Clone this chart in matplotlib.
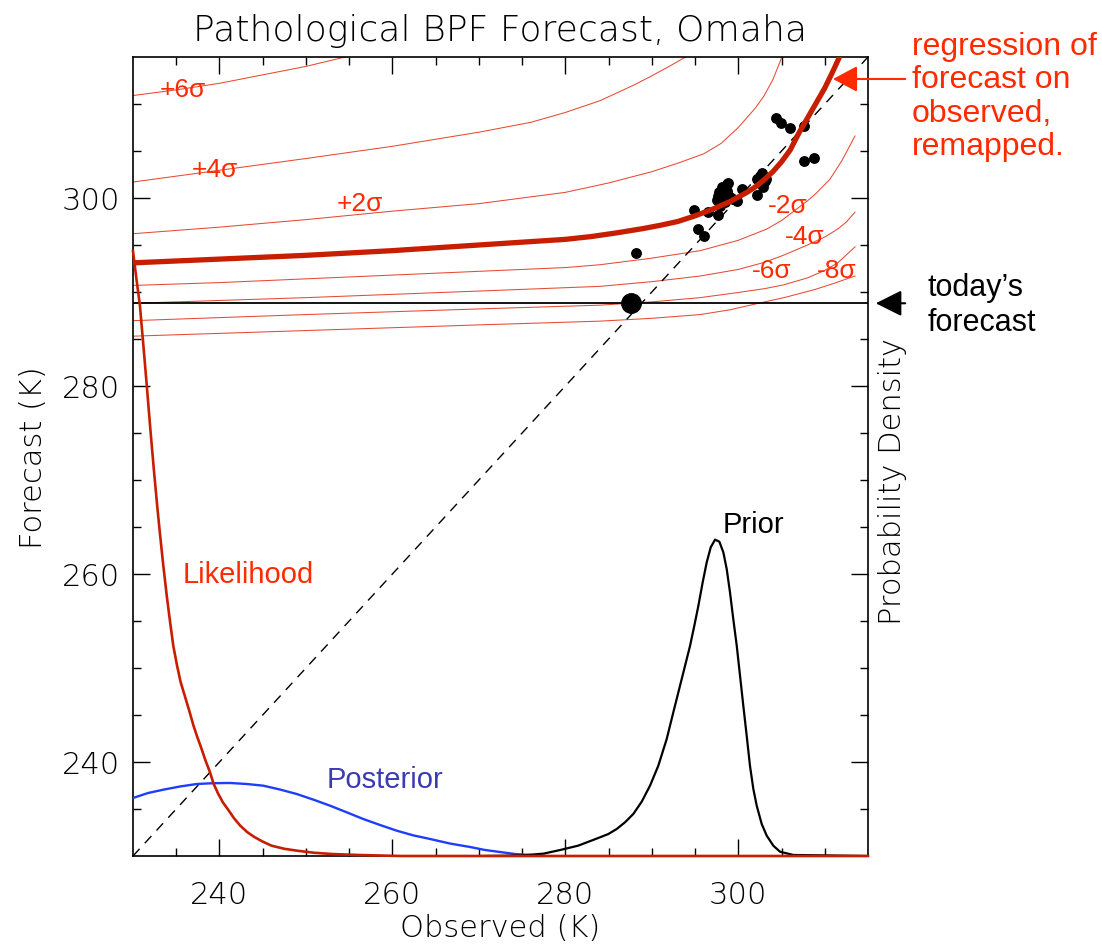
import matplotlib
matplotlib.use("Agg")
import matplotlib.pyplot as plt

# ---------------- data ----------------
# regression of forecast on observed (remapped)
reg_x = [230, 240, 250, 260, 270, 280, 283, 286, 289, 291, 293, 295, 297, 299, 301, 302, 303, 304, 305, 306, 307, 308, 309, 310, 311, 312]
reg_y = [293.1, 293.5, 293.9, 294.4, 295.0, 295.6, 295.9, 296.3, 296.75, 297.1, 297.5, 298.1, 298.8, 299.6, 300.6, 301.2, 301.95, 302.8, 303.85, 305.1, 306.9, 308.5, 310.1, 311.7, 313.6, 315.6]

# sigma curves
p2_x = [230, 240, 250, 260, 270, 280, 285, 290, 293, 296, 298, 300, 302, 303, 304, 305, 305.5]
p2_y = [296.2, 296.9, 297.7, 298.6, 299.4, 300.6, 301.6, 302.8, 303.7, 304.7, 305.8, 307.5, 309.6, 310.9, 312.6, 314.9, 316.0]
p4_x = [230, 240, 250, 260, 270, 276, 280, 284, 286, 288, 290, 292, 294, 295]
p4_y = [301.7, 302.95, 304.2, 305.5, 307.0, 308.05, 309.1, 310.35, 311.2, 312.05, 313.0, 314.0, 315.05, 315.6]
p6_x = [230, 235, 240, 245, 250, 255, 256]
p6_y = [310.9, 311.5, 312.2, 313.1, 314.0, 315.1, 315.35]
m2_x = [230, 240, 250, 260, 270, 280, 284, 290, 295.6, 300, 303.3, 305, 307, 308, 309, 310.6, 312, 313.5]
m2_y = [290.7, 291.0, 291.4, 291.8, 292.2, 292.6, 292.9, 293.6, 294.4, 295.5, 296.7, 297.6, 299.0, 299.7, 300.5, 302.0, 304.0, 306.6]
m4_x = [230, 250, 270, 284, 290, 295.6, 300, 303, 305.2, 308, 310, 311.5, 312.5, 313.5]
m4_y = [288.8, 289.4, 290.1, 290.6, 291.1, 291.7, 292.4, 293.15, 293.9, 295.0, 295.85, 296.7, 297.45, 298.5]
m6_x = [230, 250, 270, 284, 290, 295.6, 300, 303, 305.2, 308, 310, 311.5, 313.5]
m6_y = [286.95, 287.6, 288.2, 288.6, 288.95, 289.4, 289.95, 290.35, 290.75, 291.5, 292.3, 293.1, 294.8]
m8_x = [230, 250, 270, 284, 290, 295.6, 299, 302.1, 305.5, 308.8, 311, 313.5]
m8_y = [285.3, 285.9, 286.5, 286.9, 287.2, 287.6, 288.1, 288.75, 289.45, 290.25, 290.9, 291.7]

# historical (observed, forecast) pairs
pts_obs = [288.17, 294.88, 295.38, 295.98, 296.53, 297.60, 297.50, 297.69, 297.89, 298.08,
           298.27, 298.46, 298.66, 298.84, 298.66, 299.04, 299.42, 299.82, 300.39, 302.13,
           302.13, 302.51, 302.71, 303.09, 302.89, 303.20, 304.36, 304.90, 306.01, 307.62,
           307.62, 308.79, 297.77, 298.35, 298.12]
pts_fc = [294.15, 298.72, 296.70, 295.96, 298.46, 298.19, 299.79, 300.24, 299.18, 301.14,
          300.43, 299.54, 301.49, 301.60, 300.78, 300.07, 299.89, 299.71, 301.01, 300.32,
          302.02, 302.34, 302.71, 301.81, 301.17, 302.02, 308.56, 307.98, 307.45, 307.63,
          303.96, 304.22, 300.64, 300.96, 300.00]

today_fc = 288.8
today_obs = 287.6

# probability densities (arbitrary units, fraction of panel height)
lik_x = [230.0, 230.4, 230.8, 231.2, 231.6, 232.0, 232.4, 232.8, 233.12, 233.5, 233.9, 234.3, 234.66,
         235.1, 235.5, 236.0, 236.5, 237.0, 237.4, 237.9, 238.4, 238.9, 239.3, 239.8, 240.4, 241.0,
         241.7, 242.4, 243.2, 244.0, 245.0, 246.0, 247.5, 249.0, 251.0, 253.0, 256.0, 259.0, 261.0, 315.0]
lik_d = [0.757, 0.722, 0.689, 0.639, 0.588, 0.535, 0.485, 0.438, 0.403, 0.364, 0.326, 0.292, 0.263,
         0.238, 0.218, 0.200, 0.182, 0.163, 0.150, 0.135, 0.119, 0.105, 0.091, 0.079, 0.067, 0.058,
         0.047, 0.038, 0.030, 0.024, 0.018, 0.013, 0.009, 0.0066, 0.004, 0.0025, 0.0013, 0.0005, 0.0, 0.0]
post_x = [230.0, 231.73, 233.5, 235.44, 237.37, 239.25, 241.22, 243.18, 245.07, 247.0, 248.93, 250.82,
          252.78, 254.71, 256.63, 258.57, 260.5, 262.38, 264.35, 266.66, 268.97, 270.71, 272.44,
          274.18, 275.9, 277.6]
post_d = [0.0726, 0.0788, 0.083, 0.087, 0.0901, 0.0911, 0.0914, 0.0901, 0.088, 0.0832, 0.0776, 0.0707,
          0.063, 0.0547, 0.0463, 0.0388, 0.0317, 0.0259, 0.0213, 0.0156, 0.0113, 0.0075, 0.005,
          0.0025, 0.0013, 0.0]
prior_x = [270.1, 273.0, 275.3, 277.5, 279.4, 281.5, 284.01, 284.97, 285.94, 286.90, 287.86, 288.83,
           289.79, 290.75, 291.72, 292.49, 293.26, 293.84, 294.42, 294.91, 295.38, 295.88, 296.35,
           296.81, 297.31, 297.81, 298.27, 298.66, 299.04, 299.42, 299.82, 300.20, 300.58, 300.97,
           301.35, 301.74, 302.13, 302.71, 303.29, 304.05, 304.82, 306.36, 315.0]
prior_d = [0.0, 0.0003, 0.001, 0.003, 0.0075, 0.013, 0.0234, 0.0275, 0.0338, 0.0422, 0.0526, 0.068,
           0.088, 0.113, 0.1464, 0.180, 0.2131, 0.238, 0.263, 0.288, 0.313, 0.3425, 0.3676,
           0.3863, 0.3959, 0.3934, 0.3801, 0.3592, 0.330, 0.2966, 0.2632, 0.2257, 0.1881, 0.1506,
           0.113, 0.0839, 0.063, 0.040, 0.0254, 0.0129, 0.0054, 0.0013, 0.0]

xticks = [240, 260, 280, 300]
yticks = [240, 260, 280, 300]

# ---------------- style ----------------
RED_DARK = "#c81e00"
RED_TXT = "#ff2a00"
RED_THIN = "#e64a34"
TXT_FONT = ["Liberation Sans", "DejaVu Sans"]
AX_FONT = "DejaVu Sans"

fig = plt.figure(figsize=(11.02, 9.45), dpi=100)
ax = fig.add_axes([133 / 1102, 88 / 945, 735 / 1102, 799 / 945])
ax.set_xlim(230, 315)
ax.set_ylim(230, 315)

# sigma curves
for xs, ys in [(p2_x, p2_y), (p4_x, p4_y), (p6_x, p6_y), (m2_x, m2_y), (m4_x, m4_y), (m6_x, m6_y), (m8_x, m8_y)]:
    ax.plot(xs, ys, color=RED_THIN, lw=0.75, zorder=2)

# diagonal
ax.plot([230, 315], [230, 315], color="k", lw=1.0, dashes=(7, 5.5), zorder=2)
# today's forecast
ax.axhline(today_fc, color="k", lw=1.3, zorder=3)
# scatter
ax.plot(pts_obs, pts_fc, "o", color="k", ms=6.8, zorder=4)
ax.plot([today_obs], [today_fc], "o", color="k", ms=14, zorder=5)
# regression
ax.plot(reg_x, reg_y, color=RED_DARK, lw=3.8, zorder=6, solid_capstyle="butt", solid_joinstyle="round")

# densities
ax2 = ax.twinx()
ax2.set_ylim(0, 1)
ax2.set_yticks([])
ax2.plot(post_x, post_d, color="#1f3dff", lw=1.7, zorder=3, solid_joinstyle="round")
ax2.plot(prior_x, prior_d, color="k", lw=1.6, zorder=4, solid_joinstyle="round")
ax2.plot(lik_x, lik_d, color=RED_DARK, lw=1.9, zorder=5, clip_on=False, solid_joinstyle="round")
for s in ax2.spines.values():
    s.set_visible(False)
ax2.set_ylabel("Probability Density", fontsize=22, family=AX_FONT, fontweight="light",
               rotation=90, va="center", ha="center")
ax2.yaxis.set_label_coords(1.034, 0.47)

# ticks
ax.set_xticks(xticks)
ax.set_yticks(yticks)
ax.set_xticks(range(235, 315, 5), minor=True)
ax.set_yticks(range(235, 315, 5), minor=True)
ax.tick_params(which="both", direction="in", top=True, right=True, bottom=True, left=True, width=1.0)
ax.tick_params(which="major", length=12)
ax.tick_params(which="minor", length=5.5)
ax.tick_params(axis="x", which="major", pad=17)
ax.tick_params(axis="y", which="major", pad=9)
for lab in ax.get_xticklabels() + ax.get_yticklabels():
    lab.set_fontsize(22)
    lab.set_family(AX_FONT)
    lab.set_fontweight("light")
for s in ax.spines.values():
    s.set_linewidth(1.2)

ax.set_xlabel("Observed (K)", fontsize=22, family=AX_FONT, fontweight="light", labelpad=3)
ax.set_ylabel("Forecast (K)", fontsize=22, family=AX_FONT, fontweight="light", labelpad=10)
ax.set_title("Pathological BPF Forecast, Omaha", fontsize=26, family=AX_FONT, fontweight="light", pad=12)

# sigma labels
sig_labels = [("+6σ", 235.8, 311.6), ("+4σ", 239.5, 303.1), ("+2σ", 256.25, 299.5),
              ("-2σ", 305.75, 299.3), ("-4σ", 307.7, 296.0), ("-6σ", 303.9, 292.35), ("-8σ", 311.4, 292.35)]
for t, x, y in sig_labels:
    ax.text(x, y, t, color=RED_TXT, fontsize=19, family=TXT_FONT, ha="center", va="center", zorder=7)

ax.text(243.3, 260.0, "Likelihood", color=RED_TXT, fontsize=21, family=TXT_FONT, ha="center", va="center")
ax.text(259.1, 238.2, "Posterior", color="#3b3bb3", fontsize=21, family=TXT_FONT, ha="center", va="center")
ax.text(301.8, 265.3, "Prior", color="k", fontsize=21, family=TXT_FONT, ha="center", va="center")

# right-side annotations
ax.annotate("", xy=(310.95, 312.66), xytext=(319.3, 312.66), xycoords="data", annotation_clip=False,
            arrowprops=dict(arrowstyle="-|>,head_length=0.75,head_width=0.4", color=RED_TXT, lw=1.5,
                            mutation_scale=20, shrinkA=0, shrinkB=0))
ax.annotate("", xy=(315.9, today_fc), xytext=(319.3, today_fc), xycoords="data", annotation_clip=False,
            arrowprops=dict(arrowstyle="-|>,head_length=0.8,head_width=0.4", color="k", lw=1.5,
                            mutation_scale=20, shrinkA=0, shrinkB=0))
fig.text(912 / 1102, 1 - 32 / 945, "regression of\nforecast on\nobserved,\nremapped.", color=RED_TXT,
         fontsize=23, family=TXT_FONT, ha="left", va="top", linespacing=1.15)
fig.text(928 / 1102, 1 - 273 / 945, "today\u2019s\nforecast", color="k",
         fontsize=22, family=TXT_FONT, ha="left", va="top", linespacing=1.2)

fig.savefig("out.png", dpi=100)
